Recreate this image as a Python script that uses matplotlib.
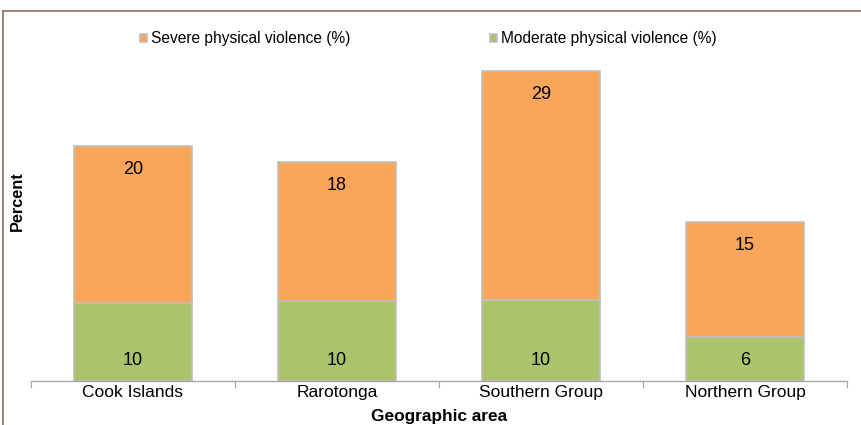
# -*- coding: utf-8 -*-
import matplotlib
matplotlib.use('Agg')
import matplotlib.pyplot as plt
from matplotlib.lines import Line2D
import numpy as np

# 数据 ======================================
areas = ['Cook Islands', 'Rarotonga', 'Southern Group', 'Northern Group']
moderate = [9.9, 10.1, 10.3, 5.6]
severe = [19.9, 17.7, 29.0, 14.6]
label_severe = 'Severe physical violence (%)'
label_moderate = 'Moderate physical violence (%)'

c_severe = '#F9A65A'
c_moderate = '#ABC46C'
c_edge = '#BFBFBF'

plt.rcParams['font.family'] = ['Liberation Sans', 'DejaVu Sans']

fig = plt.figure(figsize=(8.62, 4.25), dpi=100)
ax = fig.add_axes([31 / 862, 44 / 425, 816 / 862, 341 / 425])

x = np.arange(len(areas))
w = 0.58
b1 = ax.bar(x, moderate, w, color=c_moderate, edgecolor=c_edge, linewidth=1.2,
            label=label_moderate)
b2 = ax.bar(x, severe, w, bottom=moderate, color=c_severe, edgecolor=c_edge,
            linewidth=1.2, label=label_severe)

# 柱内数值标签
for i in range(len(areas)):
    ax.annotate('%.0f' % moderate[i], (x[i], 0), xytext=(0, 15),
                textcoords='offset points', ha='center', va='center', fontsize=13)
    ax.annotate('%.0f' % severe[i], (x[i], moderate[i] + severe[i]), xytext=(0, -17),
                textcoords='offset points', ha='center', va='center', fontsize=13)

ax.set_xlim(-0.5, len(areas) - 0.5)
ax.set_ylim(0, 43.2)
ax.set_yticks([])
for s in ['top', 'right', 'left']:
    ax.spines[s].set_visible(False)
ax.spines['bottom'].set_color('#A6A6A6')
ax.spines['bottom'].set_linewidth(1.0)

ax.set_xticks(np.arange(-0.5, len(areas)), [''] * (len(areas) + 1))
ax.tick_params(axis='x', which='major', direction='out', length=5, color='#A6A6A6')
ax.set_xticks(x, areas, minor=True)
ax.tick_params(axis='x', which='minor', length=0, labelsize=12.5, pad=3)

ax.set_xlabel('Geographic area', fontsize=12.4, fontweight='bold', labelpad=6.5)
ax.set_ylabel('Percent', fontsize=11.7, fontweight='bold')
ax.yaxis.set_label_coords(-6 / 816, (381 - 201) / 341)

ax.legend([b2, b1], [label_severe, label_moderate], ncol=2, frameon=False,
          loc='center left', bbox_to_anchor=(140 / 862, 386 / 425),
          bbox_transform=fig.transFigure, fontsize=11.2,
          handlelength=0.45, handleheight=0.45, handletextpad=0.25,
          columnspacing=9.0, borderaxespad=0, borderpad=0)

# 外框
fig.add_artist(Line2D([3 / 862, 1], [414 / 425, 414 / 425], color='#8C6D62', lw=1.2,
                      transform=fig.transFigure))
fig.add_artist(Line2D([3 / 862, 3 / 862], [0, 414 / 425], color='#8C6D62', lw=1.2,
                      transform=fig.transFigure))

fig.savefig('out.png', dpi=100)
